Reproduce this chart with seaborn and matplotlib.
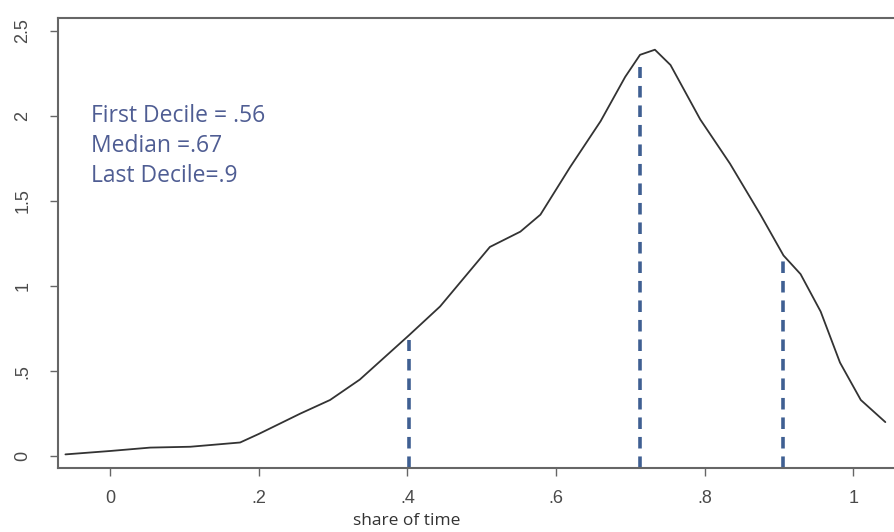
import numpy as np
import pandas as pd
import seaborn as sns
import matplotlib
matplotlib.use("Agg")
import matplotlib.pyplot as plt

# density curve
share = [-0.06, 0.0, 0.054, 0.108, 0.175, 0.2, 0.256, 0.296, 0.336, 0.402, 0.444,
         0.511, 0.552, 0.579, 0.619, 0.66, 0.693, 0.713, 0.733, 0.754, 0.794,
         0.834, 0.875, 0.906, 0.929, 0.956, 0.982, 1.01, 1.043]
density = [0.01, 0.03, 0.05, 0.055, 0.08, 0.13, 0.25, 0.33, 0.45, 0.71, 0.88,
           1.23, 1.32, 1.42, 1.7, 1.97, 2.23, 2.36, 2.39, 2.3, 1.98,
           1.72, 1.42, 1.18, 1.07, 0.85, 0.55, 0.33, 0.2]

# dashed markers
mark_x = [0.402, 0.713, 0.906]
mark_top = [0.68, 2.29, 1.18]

xticks = [0, 0.2, 0.4, 0.6, 0.8, 1.0]
xtick_labels = ["0", ".2", ".4", ".6", ".8", "1"]
yticks = [0, 0.5, 1, 1.5, 2, 2.5]
ytick_labels = ["0", ".5", "1", "1.5", "2", "2.5"]

notes = ["First Decile = .56", "Median =.67", "Last Decile=.9"]

df = pd.DataFrame({"share": share, "density": density})

sns.set_style("white")
plt.rcParams["font.family"] = ["Liberation Sans", "DejaVu Sans"]

fig = plt.figure(figsize=(8.95, 5.32), dpi=100)
ax = fig.add_axes([0.0648, 0.1203, 0.9352, 0.8457])

sns.lineplot(data=df, x="share", y="density", color="#333333", linewidth=1.3, ax=ax)

for x, top in zip(mark_x, mark_top):
    ax.plot([x, x], [-0.07, top], color="#3f5f92", linewidth=2.6,
            linestyle=(0, (3.2, 2.2)), solid_capstyle="butt")

ax.set_xlim(-0.07, 1.056)
ax.set_ylim(-0.07, 2.576)
ax.set_xticks(xticks)
ax.set_xticklabels(xtick_labels)
ax.set_yticks(yticks)
ax.set_yticklabels(ytick_labels, rotation=90, va="center")
ax.tick_params(axis="both", direction="out", length=6, width=1, color="#666666",
               labelsize=13, labelcolor="#4a4a4a", left=True, bottom=True)
ax.tick_params(axis="y", pad=13)
ax.tick_params(axis="x", pad=10)

for side in ["left", "bottom", "top"]:
    ax.spines[side].set_color("#666666")
    ax.spines[side].set_linewidth(1.5)
ax.spines["right"].set_visible(False)

ax.set_xlabel("share of time", fontsize=12.5, color="#333333",
              family=["Open Sans", "DejaVu Sans"])
ax.xaxis.set_label_coords(0.417, -0.1)
ax.set_ylabel("")

for i, t in enumerate(notes):
    ax.text(-0.026, 2.0 - i * 0.177, t, color="#4f5d93", fontsize=16.5,
            family=["Open Sans", "DejaVu Sans"], va="center", ha="left")

fig.savefig("out.png", dpi=100)
